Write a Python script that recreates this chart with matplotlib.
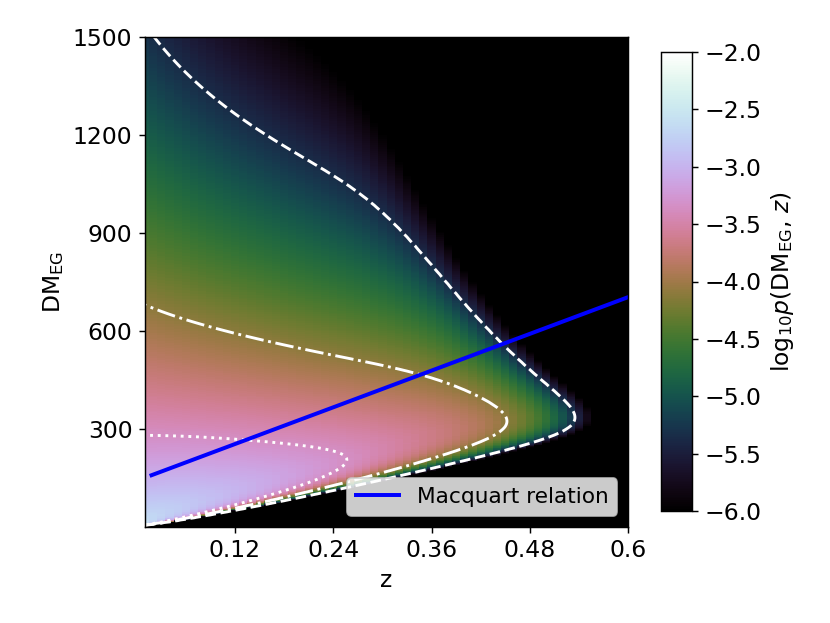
import numpy as np
import matplotlib
matplotlib.use('Agg')
import matplotlib.pyplot as plt

plt.rcParams['font.size'] = 13

# grid of the density map
z_grid = np.arange(0.01, 0.6001, 0.01)
dm_grid = np.arange(0.0, 1502.0, 2.0)

# model parameters (cosmic part + host part + redshift weight + survey selection)
cosmic_slope = 935.0
cosmic_F = 0.36
host_scale = 107.0
host_q = 0.7
pz_amp = 0.58
pz_z0 = 0.36
pz_pow = 1.04
zdm_k = 2.0
sel_zc = 0.45
sel_dm0 = 565.0
sel_beta = 0.35
sel_n = 10.0
peak_level = -2.62

# Macquart relation line
macquart_z = [0.018, 0.6]
macquart_dm = [157.0, 702.0]

contour_levels = [-5.35, -4.1, -3.35]
contour_styles = ['--', '-.', ':']

x_ticks = [0.12, 0.24, 0.36, 0.48, 0.6]
x_labels = ['0.12', '0.24', '0.36', '0.48', '0.6']
y_ticks = [300, 600, 900, 1200, 1500]
c_ticks = [-6.0, -5.5, -5.0, -4.5, -4.0, -3.5, -3.0, -2.5, -2.0]


def p_cos(delta, sigma, c0):
    d3 = delta ** -3.0
    return d3 * np.exp(-(d3 - c0) ** 2 / (18.0 * sigma ** 2))


def find_c0(sigma):
    d = np.logspace(-2, 3, 6000)
    lo, hi = -60.0, 60.0
    for _ in range(60):
        mid = 0.5 * (lo + hi)
        p = p_cos(d, sigma, mid)
        mean = np.trapezoid(d * p, d) / np.trapezoid(p, d)
        if mean > 1.0:
            lo = mid
        else:
            hi = mid
    return 0.5 * (lo + hi)


ddm = dm_grid[1] - dm_grid[0]
n = len(dm_grid)
dm_pos = np.where(dm_grid > 0, dm_grid, 1e-3)
cols = []
for z in z_grid:
    sig = cosmic_F / np.sqrt(z)
    c0 = find_c0(sig)
    pc = p_cos(dm_pos / (cosmic_slope * z), sig, c0)
    pc[dm_grid <= 0] = 0
    pc /= pc.sum() * ddm
    ph = np.exp(-(dm_grid * (1 + z) / host_scale) ** host_q)
    ph /= ph.sum() * ddm
    pdm = np.convolve(pc, ph)[:n] * ddm
    zc = sel_zc * (dm_pos / sel_dm0) ** -sel_beta
    logw = (-(z / zc) ** sel_n - pz_amp * (z / pz_z0) ** pz_pow
            - zdm_k * z * dm_grid / 1000.0)
    cols.append(pdm * 10 ** logw)

joint = np.array(cols)
logp = np.log10(np.maximum(joint / joint.max(), 1e-14)) + peak_level

fig = plt.figure(figsize=(8.3 / 1.3, 6.23 / 1.3), dpi=130)
ax = fig.add_axes([145 / 830, 1 - 526.5 / 623, 483 / 830, 490 / 623])
cax = fig.add_axes([661 / 830, 1 - 511 / 623, 31 / 830, 459 / 623])

mesh = ax.pcolormesh(z_grid, dm_grid, logp.T, shading='nearest',
                     cmap='cubehelix', vmin=-6, vmax=-2)
ax.contour(z_grid, dm_grid, logp.T, levels=contour_levels, colors='white',
           linestyles=contour_styles, linewidths=1.6)
ax.plot(macquart_z, macquart_dm, color='blue', lw=2.2, label='Macquart relation')

ax.set_xlim(0.01, 0.6)
ax.set_ylim(0, 1500)
ax.set_xticks(x_ticks)
ax.set_xticklabels(x_labels)
ax.set_yticks(y_ticks)
ax.set_xlabel('z')
ax.set_ylabel(r'DM$_{\rm EG}$')
ax.legend(loc='lower right', fontsize=12)

cb = fig.colorbar(mesh, cax=cax, ticks=c_ticks)
cb.set_label(r'log$_{10}p$(DM$_{\rm EG}$, $z$)')

fig.savefig('out.png')
